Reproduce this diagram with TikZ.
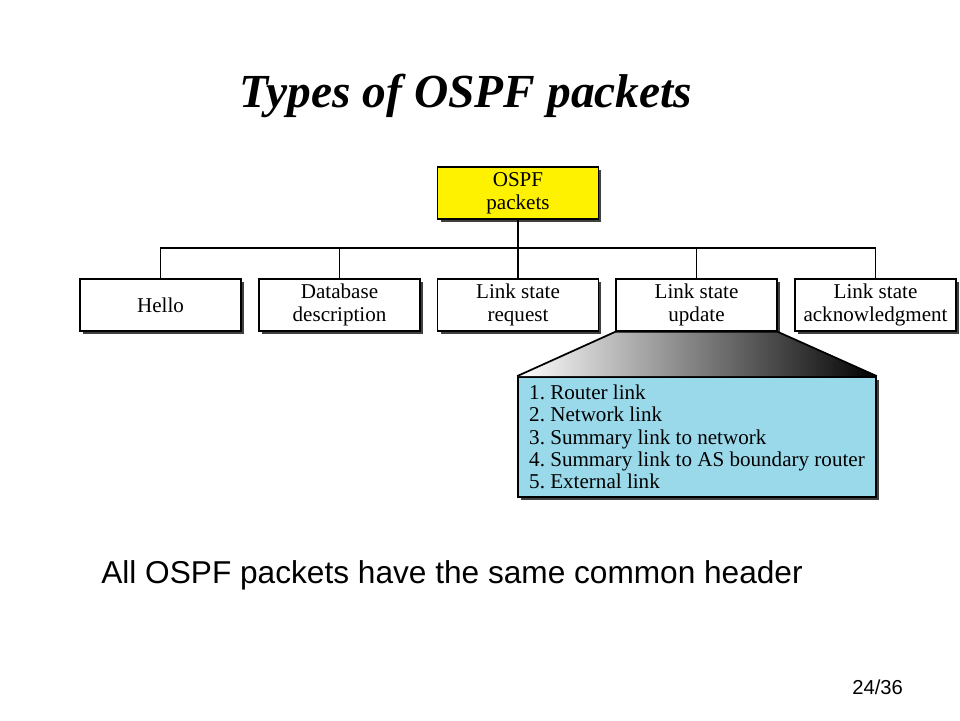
\documentclass[tikz,border=0pt]{standalone}
\usepackage{fontspec}
\setmainfont{Liberation Serif}
\setsansfont{Liberation Sans}
\usetikzlibrary{shadows}
\definecolor{celeste}{RGB}{153,217,234}
\tikzset{
  sombra/.style={drop shadow={shadow xshift=0.06cm, shadow yshift=-0.06cm, fill=black!75, opacity=1}},
  caja/.style={draw, line width=0.35mm, fill=white, sombra, minimum width=3.22cm, minimum height=1.04cm,
    inner sep=0pt, align=center, font=\fontsize{12}{13}\selectfont},
}
\frenchspacing
\begin{document}
\begin{tikzpicture}[x=0.02cm, y=-0.02cm]
        \useasboundingbox (0,0) rectangle (960,720);
        %%%%%%%%%%%%%%%%%%%%%%%% Titulo %%%%%%%%%%%%%%%%%%%%%%%%%%%%%%%%%%%
        \node[anchor=base, font=\fontsize{27}{30}\selectfont\bfseries\itshape] (titulo) at (466,107) {Types of OSPF packets};
        %%%%%%%%%%%%%%%%%%%%%%%% Cajas %%%%%%%%%%%%%%%%%%%%%%%%%%%%%%%%%%%
        \node[caja, fill=yellow] (ospf) at (518,193) {OSPF\\packets};
        \node[caja] (hello) at (160.5,305) {Hello};
        \node[caja] (dbd) at (339.5,305) {Database\\description};
        \node[caja] (lsr) at (518,305) {Link state\\request};
        \node[caja] (lsu) at (696.5,305) {Link state\\update};
        \node[caja] (lsack) at (875.5,305) {Link state\\acknowledgment};
        %%%%%%%%%%%%%%%%%%%%%%%% Arbol %%%%%%%%%%%%%%%%%%%%%%%%%%%%%%%%%%%
        \coordinate (barra) at (0,248);
        \draw[line width=0.35mm] (ospf.south) -- (ospf.south |- barra);
        \draw[line width=0.35mm] (hello.north) -- (hello.north |- barra) -- (lsack.north |- barra) -- (lsack.north);
        \foreach \n in {dbd,lsr,lsu}
          \draw[line width=0.35mm] (\n.north) -- (\n.north |- barra);
        %%%%%%%%%%%%%%%%%%%%%%%% Tipos de LSA %%%%%%%%%%%%%%%%%%%%%%%%%%%%%%
        \node[draw, line width=0.35mm, fill=celeste, sombra, minimum width=7.16cm, minimum height=2.4cm,
          inner sep=0pt, align=left, font=\fontsize{12}{12.75}\selectfont] (lsa) at (697,437)
          {1. Router link\\2. Network link\\3. Summary link to network\\4. Summary link to AS boundary router\\5. External link};
        \shade[left color=white, right color=black] (lsu.south west) -- (lsu.south east) -- (lsa.north east) -- (lsa.north west) -- cycle;
        \draw[line width=0.35mm] (lsa.north west) -- (lsu.south west) -- (lsu.south east) -- (lsa.north east);
        %%%%%%%%%%%%%%%%%%%%%%%% Textos %%%%%%%%%%%%%%%%%%%%%%%%%%%%%%%%%%
        \node[anchor=base west, inner sep=0pt, font=\sffamily\fontsize{18}{20}\selectfont] (cabecera) at (101,583) {All OSPF packets have the same common header};
        \node[anchor=base west, inner sep=0pt, font=\sffamily\fontsize{11.5}{13}\selectfont] (pagina) at (852,694) {24/36};
      \end{tikzpicture}
\end{document}
